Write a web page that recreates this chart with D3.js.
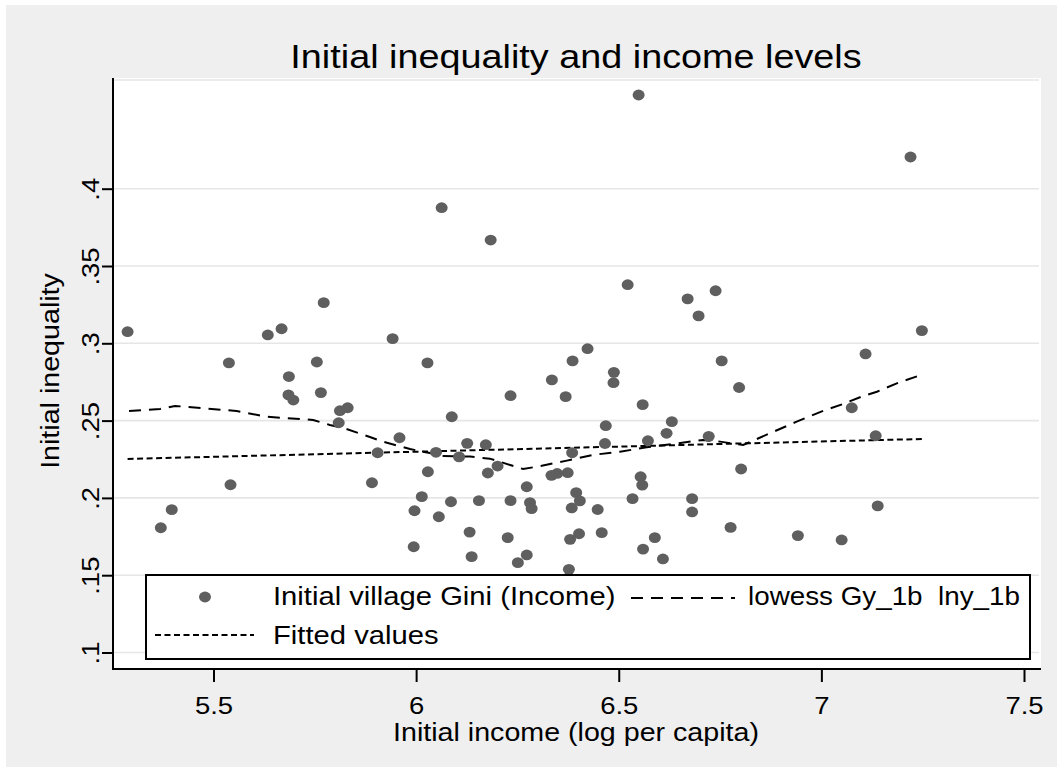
<!DOCTYPE html>
<html lang="en">

<head>
  <meta charset="UTF-8" />
  <title>Initial inequality and income levels</title>
  <script src="https://d3js.org/d3.v7.min.js"></script>
  <style>
    body {
      margin: 0;
      background: #ffffff;
    }

    text {
      font-family: "Liberation Sans", Arial, sans-serif;
      fill: #000;
    }

    .pre {
      white-space: pre;
    }
  </style>
</head>

<body>
  <script>
    // scatter: Initial village Gini (Income)
    var giniX = [5.288, 5.538, 5.634, 5.668, 5.772, 5.686, 5.755, 5.942, 6.028, 6.549,
      6.063, 6.184, 6.522, 6.670, 6.739, 6.697, 6.386, 6.423, 6.488, 6.487,
      6.335, 6.754, 7.220, 7.248, 7.109, 5.685, 5.697, 5.765, 5.812, 5.831,
      5.809, 5.959, 5.905, 6.029, 5.542, 5.891, 6.014, 5.397, 5.370, 5.996,
      5.994, 6.233, 6.369, 6.559, 6.797, 6.088, 6.468, 6.631, 6.618, 6.126,
      6.172, 6.466, 6.572, 6.722, 6.049, 6.106, 6.385, 6.201, 6.177, 6.334,
      6.348, 6.374, 6.554, 6.558, 6.802, 6.273, 6.086, 6.155, 6.233, 6.281,
      6.285, 6.395, 6.404, 6.384, 6.448, 6.534, 6.681, 6.681, 6.056, 6.132,
      6.226, 6.380, 6.402, 6.458, 6.776, 6.137, 6.273, 6.251, 6.560, 6.589,
      6.609, 6.377, 7.075, 7.134, 7.139, 6.942, 7.050];
    var giniY = [.3075, .2873, .3054, .3094, .3263, .2785, .2879, .3030, .2873, .4606,
      .3877, .3668, .3379, .3287, .3340, .3177, .2886, .2965, .2812, .2745,
      .2763, .2886, .4205, .3082, .2931, .2666, .2633, .2681, .2564, .2583,
      .2486, .2389, .2292, .2169, .2085, .2098, .2008, .1924, .1807, .1917,
      .1684, .2661, .2655, .2603, .2714, .2525, .2467, .2493, .2418, .2353,
      .2344, .2352, .2370, .2398, .2295, .2265, .2292, .2206, .2161, .2146,
      .2158, .2163, .2137, .2083, .2187, .2072, .1975, .1982, .1982, .1969,
      .1931, .2034, .1981, .1935, .1925, .1995, .1995, .1909, .1878, .1779,
      .1743, .1732, .1768, .1775, .1809, .1620, .1631, .1581, .1669, .1743,
      .1605, .1538, .2583, .2402, .1948, .1756, .1728];

    // lowess Gy_1b lny_1b
    var lowessX = [5.2915, 5.368, 5.405, 5.557, 5.631, 5.746, 5.787, 5.820, 5.886, 5.918,
      5.985, 6.034, 6.059, 6.133, 6.182, 6.232, 6.264, 6.298, 6.372, 6.436,
      6.503, 6.569, 6.634, 6.708, 6.750, 6.807, 6.873, 6.939, 7.005, 7.053,
      7.103, 7.137, 7.186, 7.248];
    var lowessY = [.2562, .2575, .2595, .2562, .2525, .2504, .2472, .2453, .2394, .2364,
      .2316, .2290, .2271, .2267, .2254, .2213, .2187, .2202, .2241, .2278,
      .2299, .2327, .2349, .2375, .2364, .2342, .2418, .2493, .2564, .2607,
      .2659, .2687, .2741, .2797];

    // Fitted values
    var fitX = [5.288, 5.73, 6.32, 6.52, 6.80, 7.248];
    var fitY = [.2252, .2281, .2320, .2333, .2352, .2381];

    var xTicks = [5.5, 6, 6.5, 7, 7.5];
    var xTickLabels = ["5.5", "6", "6.5", "7", "7.5"];
    var yTicks = [.1, .15, .2, .25, .3, .35, .4];
    var yTickLabels = [".1", ".15", ".2", ".25", ".3", ".35", ".4"];

    var legendLabels = ["Initial village Gini (Income)", "lowess Gy_1b  lny_1b", "Fitted values"];

    var width = 1057,
      height = 767;
    var plot = { left: 112, right: 1041, top: 78, bottom: 670 };
    var widen = 1.145; // stata glyphs are wider than helvetica

    var xScale = d3.scaleLinear().domain([5.5, 7.5]).range([213.5, 1024]);
    var yScale = d3.scaleLinear().domain([.1, .4]).range([652.5, 188.7]);

    var svg = d3.select("body").append("svg")
      .attr("width", width)
      .attr("height", height);

    function stretch(sel, f) {
      sel.each(function () {
        var w = this.getComputedTextLength();
        d3.select(this).attr("textLength", w * (f || widen)).attr("lengthAdjust", "spacingAndGlyphs");
      });
    }

    svg.append("rect")
      .attr("x", 6).attr("y", 5)
      .attr("width", width - 6).attr("height", height - 5)
      .style("fill", "#efefef");

    svg.append("rect")
      .attr("x", plot.left).attr("y", plot.top)
      .attr("width", plot.right - plot.left).attr("height", plot.bottom - plot.top)
      .style("fill", "#fff");

    // grid
    svg.append("g").selectAll("line")
      .data(yTicks)
      .enter().append("line")
      .attr("x1", plot.left).attr("x2", plot.right - 2)
      .attr("y1", (d) => yScale(d)).attr("y2", (d) => yScale(d))
      .style("stroke", "#e6e6e6").style("stroke-width", 1.6);
    svg.append("line")
      .attr("x1", plot.left).attr("x2", plot.right - 2)
      .attr("y1", plot.top + 2).attr("y2", plot.top + 2)
      .style("stroke", "#e6e6e6").style("stroke-width", 1.6);

    // fitted + lowess lines
    var line = d3.line().x((d) => xScale(d[0])).y((d) => yScale(d[1]));

    svg.append("path")
      .datum(d3.zip(fitX, fitY))
      .attr("d", line)
      .style("fill", "none").style("stroke", "#000")
      .style("stroke-width", 2).style("stroke-dasharray", "6,3.5");

    svg.append("path")
      .datum(d3.zip(lowessX, lowessY))
      .attr("d", line)
      .style("fill", "none").style("stroke", "#000")
      .style("stroke-width", 2).style("stroke-dasharray", "12,8");

    svg.append("g").selectAll("ellipse")
      .data(d3.zip(giniX, giniY))
      .enter().append("ellipse")
      .attr("cx", (d) => xScale(d[0]))
      .attr("cy", (d) => yScale(d[1]))
      .attr("rx", 6).attr("ry", 5.4)
      .style("fill", "#5f5f5f");

    // axes
    var xAxis = d3.axisBottom(xScale)
      .tickValues(xTicks)
      .tickFormat((d, i) => xTickLabels[i])
      .tickSize(13).tickSizeOuter(0);
    var gx = svg.append("g")
      .attr("transform", "translate(0," + (plot.bottom - 1) + ")")
      .call(xAxis);
    gx.select(".domain").remove();
    gx.selectAll("line").style("stroke", "#000").style("stroke-width", 2);
    gx.selectAll("text")
      .attr("y", 45).attr("dy", 0)
      .style("font-size", "24px").style("fill", "#000")
      .call(stretch);

    var yAxis = d3.axisLeft(yScale)
      .tickValues(yTicks)
      .tickFormat((d, i) => yTickLabels[i])
      .tickSize(11).tickSizeOuter(0);
    var gy = svg.append("g")
      .attr("transform", "translate(" + (plot.left + 1) + ",0)")
      .call(yAxis);
    gy.select(".domain").remove();
    gy.selectAll("line").style("stroke", "#000").style("stroke-width", 2);
    gy.selectAll("text")
      .attr("transform", "rotate(-90)")
      .attr("x", 0).attr("y", -14).attr("dy", 0)
      .attr("text-anchor", "middle")
      .style("font-size", "24px").style("fill", "#000")
      .call(stretch);

    svg.append("line")
      .attr("x1", plot.left + 1).attr("x2", plot.left + 1)
      .attr("y1", plot.top).attr("y2", plot.bottom)
      .style("stroke", "#000").style("stroke-width", 2);
    svg.append("line")
      .attr("x1", plot.left).attr("x2", plot.right)
      .attr("y1", plot.bottom - 1).attr("y2", plot.bottom - 1)
      .style("stroke", "#000").style("stroke-width", 2);

    // titles
    svg.append("text")
      .attr("x", 576).attr("y", 68)
      .attr("text-anchor", "middle")
      .style("font-size", "33px")
      .text("Initial inequality and income levels")
      .call(stretch);

    svg.append("text")
      .attr("x", 576).attr("y", 741)
      .attr("text-anchor", "middle")
      .style("font-size", "25px")
      .text("Initial income (log per capita)")
      .call(stretch);

    svg.append("text")
      .attr("transform", "translate(59,371) rotate(-90)")
      .attr("text-anchor", "middle")
      .style("font-size", "25px")
      .text("Initial inequality")
      .call(stretch);

    // legend
    var lg = svg.append("g");
    lg.append("rect")
      .attr("x", 146).attr("y", 575)
      .attr("width", 884).attr("height", 84)
      .style("fill", "#fff").style("stroke", "#000").style("stroke-width", 2);

    lg.append("ellipse")
      .attr("cx", 205).attr("cy", 597)
      .attr("rx", 6).attr("ry", 5.4)
      .style("fill", "#5f5f5f");
    lg.append("line")
      .attr("x1", 631).attr("x2", 735).attr("y1", 598).attr("y2", 598)
      .style("stroke", "#000").style("stroke-width", 2).style("stroke-dasharray", "12,8");
    lg.append("line")
      .attr("x1", 155).attr("x2", 254).attr("y1", 635).attr("y2", 635)
      .style("stroke", "#000").style("stroke-width", 2).style("stroke-dasharray", "6,3.5");

    var legendPos = [[273, 605], [748, 605], [273, 644]];
    var legendWiden = [widen, 1.09, widen];
    lg.selectAll("text.lab")
      .data(legendLabels)
      .enter().append("text")
      .attr("class", "lab pre")
      .attr("x", (d, i) => legendPos[i][0])
      .attr("y", (d, i) => legendPos[i][1])
      .style("font-size", "25.5px")
      .text((d) => d)
      .each(function (d, i) { stretch(d3.select(this), legendWiden[i]); });
  </script>
</body>

</html>
